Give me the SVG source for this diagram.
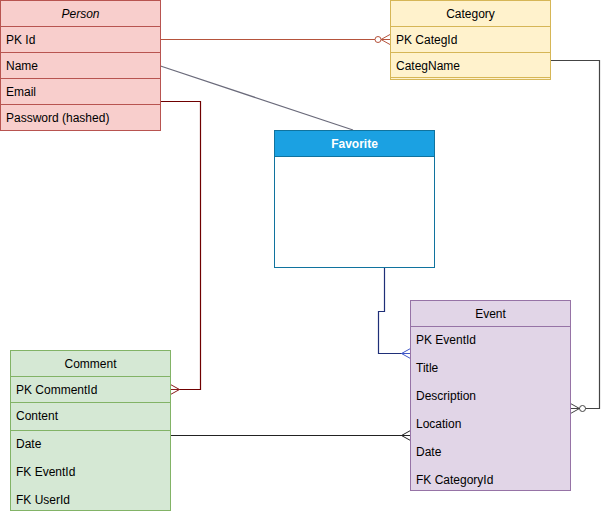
<svg xmlns="http://www.w3.org/2000/svg" width="609" height="514" viewBox="0 0 609 514">
  <style>
    text { font-family: "Liberation Sans", Arial, sans-serif; font-size: 12px; fill: #000; }
    .hdr { text-anchor: middle; }
    .conn { fill: none; stroke-width: 1.2; }
  </style>
  <defs>
    <!-- crow's foot (many) and circle + crow's foot (zero or many), one per line colour -->
    <marker id="zm-brown" viewBox="0 0 20 12" refX="20" refY="6" markerWidth="20" markerHeight="12" markerUnits="userSpaceOnUse" orient="auto">
      <circle cx="8" cy="6" r="3" fill="#fff" stroke="#b5533c"/>
      <path d="M11,6 L20,1 M11,6 L20,11 M11,6 H20" fill="none" stroke="#b5533c"/>
    </marker>
    <marker id="zm-grey" viewBox="0 0 20 12" refX="20" refY="6" markerWidth="20" markerHeight="12" markerUnits="userSpaceOnUse" orient="auto">
      <circle cx="8" cy="6" r="3" fill="#fff" stroke="#444"/>
      <path d="M11,6 L20,1 M11,6 L20,11 M11,6 H20" fill="none" stroke="#444"/>
    </marker>
    <marker id="m-red" viewBox="0 0 20 12" refX="20" refY="6" markerWidth="20" markerHeight="12" markerUnits="userSpaceOnUse" orient="auto">
      <path d="M11,6 L20,1 M11,6 L20,11 M11,6 H20" fill="none" stroke="#8b1a1a"/>
    </marker>
    <marker id="m-blue" viewBox="0 0 20 12" refX="20" refY="6" markerWidth="20" markerHeight="12" markerUnits="userSpaceOnUse" orient="auto">
      <path d="M11,6 L20,1 M11,6 L20,11 M11,6 H20" fill="none" stroke="#3f57c8"/>
    </marker>
    <marker id="m-black" viewBox="0 0 20 12" refX="20" refY="6" markerWidth="20" markerHeight="12" markerUnits="userSpaceOnUse" orient="auto">
      <path d="M11,6 L20,1 M11,6 L20,11 M11,6 H20" fill="none" stroke="#222"/>
    </marker>
  </defs>

  <rect width="609" height="514" fill="#fff"/>

  <!-- relationships -->
  <g id="connectors">
    <path class="conn" d="M160.5,39.5 H390" stroke="#b5533c" marker-end="url(#zm-brown)"/>
    <path class="conn" d="M160.5,66 L353,130" stroke="#6b6b7b"/>
    <path class="conn" d="M160.5,101.5 H200.5 V389.5 H170.5" stroke="#6f0000" marker-end="url(#m-red)"/>
    <path class="conn" d="M550.5,60.5 H599.5 V408.5 H570.5" stroke="#444" marker-end="url(#zm-grey)"/>
    <path class="conn" d="M384.5,268 V311.5 H378.5 V353.5 H410.5" stroke="#1f2f78" marker-end="url(#m-blue)"/>
    <path class="conn" d="M170.5,435.5 H410.5" stroke="#222" marker-end="url(#m-black)"/>
  </g>

  <!-- Person -->
  <g id="person">
    <rect x="0.5" y="0.5" width="160" height="130" fill="#f8cecc" stroke="#b85450"/>
    <path d="M0.5,26.5 H160.5 M0.5,52.5 H160.5 M0.5,78.5 H160.5 M0.5,104.5 H160.5" stroke="#b85450" fill="none"/>
    <text class="hdr" x="80.5" y="18" font-style="italic">Person</text>
    <text x="6" y="44">PK Id</text>
    <text x="6" y="70">Name</text>
    <text x="6" y="96">Email</text>
    <text x="6" y="122">Password (hashed)</text>
  </g>

  <!-- Category -->
  <g id="category">
    <rect x="390.5" y="0.5" width="160" height="79" fill="#fff2cc" stroke="#d6b656"/>
    <path d="M390.5,26.5 H550.5 M390.5,52.5 H550.5 M390.5,77.5 H550.5" stroke="#d6b656" fill="none"/>
    <text class="hdr" x="470.5" y="18">Category</text>
    <text x="396" y="44">PK CategId</text>
    <text x="396" y="70">CategName</text>
  </g>

  <!-- Favorite -->
  <g id="favorite">
    <rect x="274.5" y="130.5" width="160" height="137" fill="#fff" stroke="#10739e"/>
    <rect x="274.5" y="130.5" width="160" height="26" fill="#1ba1e2" stroke="#10739e"/>
    <text class="hdr" x="354.5" y="148" fill="#fff" font-weight="bold" style="fill:#fff">Favorite</text>
  </g>

  <!-- Event -->
  <g id="event">
    <rect x="410.5" y="300.5" width="160" height="190" fill="#e1d5e7" stroke="#9673a6"/>
    <path d="M410.5,326.5 H570.5" stroke="#9673a6" fill="none"/>
    <text class="hdr" x="490.5" y="318">Event</text>
    <text x="416" y="344">PK EventId</text>
    <text x="416" y="372">Title</text>
    <text x="416" y="400">Description</text>
    <text x="416" y="428">Location</text>
    <text x="416" y="456">Date</text>
    <text x="416" y="484">FK CategoryId</text>
  </g>

  <!-- Comment -->
  <g id="comment">
    <rect x="10.5" y="350.5" width="160" height="160" fill="#d5e8d4" stroke="#82b366"/>
    <path d="M10.5,376.5 H170.5 M10.5,402.5 H170.5 M10.5,430.5 H170.5" stroke="#82b366" fill="none"/>
    <text class="hdr" x="90.5" y="368">Comment</text>
    <text x="16" y="394">PK CommentId</text>
    <text x="16" y="420">Content</text>
    <text x="16" y="448">Date</text>
    <text x="16" y="476">FK EventId</text>
    <text x="16" y="504">FK UserId</text>
  </g>
</svg>
